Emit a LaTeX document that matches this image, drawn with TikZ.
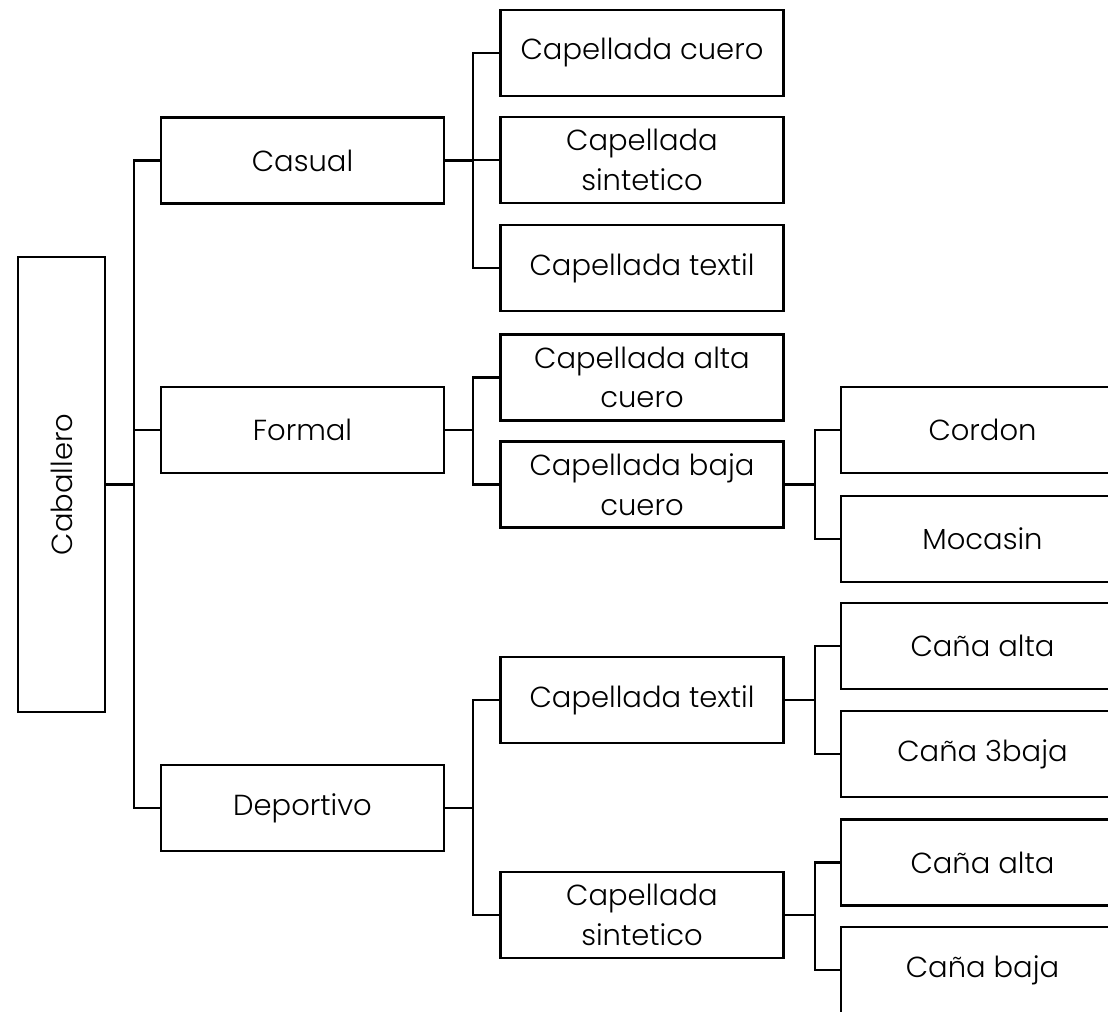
\documentclass[tikz,border=0pt]{standalone}
\usepackage{fontspec}
\setmainfont{Poppins Light}
\usepackage{tikz}
\usetikzlibrary{positioning}
\definecolor{TreeInk}{HTML}{000000}
\tikzset{
  tree/.style={font=\fontsize{16.5}{22.5}\selectfont,text=TreeInk},
  leafbox/.style={draw=TreeInk,line width=1.2pt,fill=white,align=center,
    minimum width=5.66cm,minimum height=1.72cm,inner sep=2pt},
  link/.style={draw=TreeInk,line width=1.2pt},
}

\begin{document}
\begin{tikzpicture}[tree]
  \clip (0,0) rectangle (22.16,20.22);

  % root
  \node[leafbox,minimum width=1.74cm,minimum height=9.1cm] (cab) at (1.23,10.53)
    {\rotatebox{90}{Caballero}};

  % first level
  \node[leafbox] (casual) at (6.05,17.01) {Casual};
  \node[leafbox] (formal) at (6.05,11.62) {Formal};
  \node[leafbox] (depor) at (6.05,4.06) {Deportivo};

  % second level
  \node[leafbox] (cuero) at (12.84,19.16) {Capellada cuero};
  \node[leafbox] (sintA) at (12.84,17.02) {Capellada\\sintetico};
  \node[leafbox] (textilA) at (12.84,14.86) {Capellada textil};
  \node[leafbox] (altaCuero) at (12.84,12.67) {Capellada alta\\cuero};
  \node[leafbox] (bajaCuero) at (12.84,10.53) {Capellada baja\\cuero};
  \node[leafbox] (textilB) at (12.84,6.22) {Capellada textil};
  \node[leafbox] (sintB) at (12.84,1.92) {Capellada\\sintetico};

  % third level
  \node[leafbox] (cordon) at (19.65,11.62) {Cordon};
  \node[leafbox] (mocasin) at (19.65,9.44) {Mocasin};
  \node[leafbox] (altaA) at (19.65,7.30) {Caña alta};
  \node[leafbox] (bajaA) at (19.65,5.14) {Caña 3baja};
  \node[leafbox] (altaB) at (19.65,2.97) {Caña alta};
  \node[leafbox] (bajaB) at (19.65,0.82) {Caña baja};

  % connectors
  \foreach \kid in {casual,formal,depor}
    \draw[link] (cab.east) -- ++(0.56,0) |- (\kid.west);
  \foreach \kid in {cuero,sintA,textilA}
    \draw[link] (casual.east) -- ++(0.56,0) |- (\kid.west);
  \foreach \kid in {altaCuero,bajaCuero}
    \draw[link] (formal.east) -- ++(0.56,0) |- (\kid.west);
  \foreach \kid in {textilB,sintB}
    \draw[link] (depor.east) -- ++(0.56,0) |- (\kid.west);
  \foreach \kid in {cordon,mocasin}
    \draw[link] (bajaCuero.east) -- ++(0.6,0) |- (\kid.west);
  \foreach \kid in {altaA,bajaA}
    \draw[link] (textilB.east) -- ++(0.6,0) |- (\kid.west);
  \foreach \kid in {altaB,bajaB}
    \draw[link] (sintB.east) -- ++(0.6,0) |- (\kid.west);
\end{tikzpicture}
\end{document}
